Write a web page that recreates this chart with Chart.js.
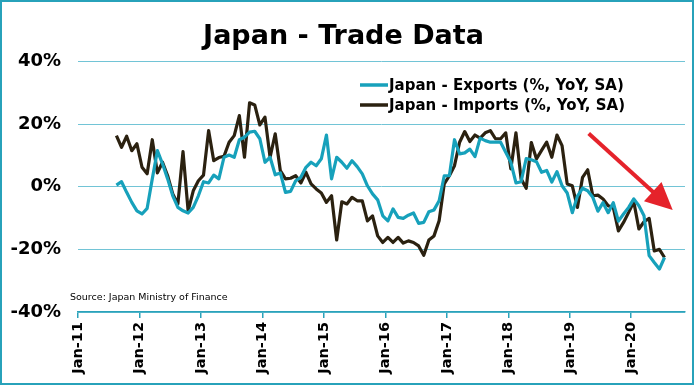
<!DOCTYPE html>
<html lang="en">
<head>
<meta charset="UTF-8" />
<title>Japan - Trade Data</title>
<script src="https://cdn.jsdelivr.net/npm/chart.js"></script>
<style>
  body { margin: 0; background: #fff; }
  .frame { width: 694px; height: 385px; box-sizing: border-box; border: 2px solid #27a2ba; background: #fff; }
  canvas { display: block; }
</style>
</head>
<body>
<div class="frame"><canvas id="tradeChart" width="690" height="381"></canvas></div>
<script>
// months counted from Jan-11 (= 0); first observation is Aug-11
const startMonth = 7;
const yearLabels = ['Jan-11', 'Jan-12', 'Jan-13', 'Jan-14', 'Jan-15', 'Jan-16', 'Jan-17', 'Jan-18', 'Jan-19', 'Jan-20'];

const exportsYoY = [
  0.5, 1.6, -1.8, -5, -7.7,
  -8.7, -6.9, 2.5, 11.5, 7.3, 2.5, -2.9, -6.6, -7.7, -8.4, -6.6, -2.9,
  1.6, 1.2, 3.7, 2.5, 9.4, 10.1, 9.4, 15, 15.8, 17.4, 17.7, 15.3,
  7.8, 9.4, 3.8, 4.4, -1.8, -1.5, 1.9, 3, 6.2, 7.8, 6.7, 8.9,
  16.5, 2.5, 9.4, 7.8, 5.9, 8.3, 6.4, 4.1, 0.3, -2.3, -4.2, -9.3,
  -10.9, -7.1, -9.8, -10.1, -9.1, -8.4, -11.7, -11.4, -8, -7.4, -4.5, 3.5,
  3.5, 15, 10.5, 10.8, 12, 9.6, 15.5, 14.7, 14.2, 14.2, 14.2, 11,
  7.8, 1.2, 1.6, 9, 8.6, 8, 4.6, 5.2, 1.5, 4.8, 0.3, -2,
  -8.3, -3, -0.5, -1.3, -3.4, -7.8, -5.1, -8.3, -5.1, -11, -8.7, -6.6,
  -3.9, -6.1, -9.3, -22, -24.2, -26.3, -22.6
];

const importsYoY = [
  16.3, 12.6, 16.1, 11.5, 13.7,
  6.2, 4.1, 15, 4.4, 7.8, 3.5, -2.3, -5.5, 11.2, -7.7, -1.3, 1.9,
  3.7, 17.9, 8.3, 9.3, 9.7, 14.2, 16.3, 22.7, 9.4, 26.8, 26.1, 19.7,
  22.2, 9.4, 16.9, 5.1, 2.5, 2.7, 3.5, 1.2, 4.6, 0.9, -0.7, -2,
  -5, -2.9, -17, -4.8, -5.5, -3.4, -4.5, -4.5, -10.9, -9.3, -15.7, -17.8,
  -16.2, -17.8, -16.2, -18, -17.3, -17.8, -18.9, -21.9, -17, -15.7, -10.9, 0.9,
  3.5, 6.7, 14.2, 17.6, 14.4, 16.5, 15.5, 17.2, 17.9, 15.3, 15.3, 17.2,
  5.7, 17.2, 2.5, -0.5, 14.1, 8.9, 11.6, 14.2, 9.4, 16.5, 13.1, 0.9,
  0.3, -6.6, 3, 5.4, -2.9, -2.7, -3.9, -6.1, -6.6, -14.1, -11.4, -8.2,
  -4.8, -13.5, -11.2, -10.1, -20.5, -20, -22.6
];

// plot each month at mid-month
const toPoints = arr => arr.map((v, i) => ({ x: startMonth + i + 0.5, y: v }));

const teal = '#17a1bb';
const dark = '#2b2110';
const axisTeal = '#2aa2ba';
const gridTeal = '#72c4d6';

// red "trend" arrow, given in data units (month index, %)
const arrowFrom = { x: 99.7, y: 17 };
const arrowTo = { x: 116.1, y: -7.4 };

const extras = {
  id: 'extras',
  afterDatasetsDraw(chart) {
    const { ctx, chartArea, scales } = chart;
    ctx.save();

    // legend
    const lx = 358, ly = [83, 103];
    chart.data.datasets.forEach((ds, i) => {
      ctx.strokeStyle = ds.borderColor;
      ctx.lineWidth = 3.5;
      ctx.beginPath();
      ctx.moveTo(lx, ly[i]);
      ctx.lineTo(lx + 28, ly[i]);
      ctx.stroke();
      ctx.fillStyle = '#000';
      ctx.font = 'bold 15px "DejaVu Sans"';
      ctx.textBaseline = 'middle';
      ctx.textAlign = 'left';
      ctx.fillText(ds.label, lx + 29, ly[i] + 1);
    });

    // source note
    ctx.font = '9.5px "DejaVu Sans"';
    ctx.fillStyle = '#000';
    ctx.fillText('Source: Japan Ministry of Finance', chartArea.left - 8, chartArea.bottom - 14);

    // arrow
    const x1 = scales.x.getPixelForValue(arrowFrom.x), y1 = scales.y.getPixelForValue(arrowFrom.y);
    const x2 = scales.x.getPixelForValue(arrowTo.x), y2 = scales.y.getPixelForValue(arrowTo.y);
    const ang = Math.atan2(y2 - y1, x2 - x1);
    const headLen = 27, headHalf = 13;
    const bx = x2 - headLen * Math.cos(ang), by = y2 - headLen * Math.sin(ang);
    ctx.strokeStyle = '#e5232b';
    ctx.fillStyle = '#e5232b';
    ctx.lineWidth = 4;
    ctx.beginPath();
    ctx.moveTo(x1, y1);
    ctx.lineTo(bx + 2 * Math.cos(ang), by + 2 * Math.sin(ang));
    ctx.stroke();
    ctx.beginPath();
    ctx.moveTo(x2, y2);
    ctx.lineTo(bx - headHalf * Math.sin(ang), by + headHalf * Math.cos(ang));
    ctx.lineTo(bx + headHalf * Math.sin(ang), by - headHalf * Math.cos(ang));
    ctx.closePath();
    ctx.fill();

    ctx.restore();
  }
};

new Chart(document.getElementById('tradeChart'), {
  type: 'line',
  data: {
    datasets: [
      {
        label: 'Japan - Exports (%, YoY, SA)',
        data: toPoints(exportsYoY),
        borderColor: teal,
        borderWidth: 3.2,
        borderJoinStyle: 'round',
        pointRadius: 0,
        tension: 0,
        fill: false
      },
      {
        label: 'Japan - Imports (%, YoY, SA)',
        data: toPoints(importsYoY),
        borderColor: dark,
        borderWidth: 3.2,
        borderJoinStyle: 'round',
        pointRadius: 0,
        tension: 0,
        fill: false
      }
    ]
  },
  options: {
    responsive: false,
    animation: false,
    layout: { padding: { left: 0, right: 7, top: 0, bottom: 0 } },
    plugins: {
      legend: { display: false },
      tooltip: { enabled: false },
      title: {
        display: true,
        text: 'Japan - Trade Data',
        color: '#000',
        font: { family: 'DejaVu Sans', size: 27, weight: 'bold' },
        padding: { top: 19, bottom: 8 }
      }
    },
    scales: {
      x: {
        type: 'linear',
        min: 0,
        max: 118.5,
        afterBuildTicks: s => { s.ticks = yearLabels.map((_, i) => ({ value: i * 12 })); },
        afterFit: s => { s.height = 71; },
        grid: { drawOnChartArea: false, drawTicks: true, tickLength: 6, color: axisTeal, lineWidth: 1.5 },
        border: { display: true, color: axisTeal, width: 1.5 },
        ticks: {
          autoSkip: false,
          minRotation: 90,
          maxRotation: 90,
          padding: 4,
          color: '#000',
          font: { family: 'DejaVu Sans', size: 14.5, weight: 'bold' },
          callback: v => yearLabels[Math.round(v / 12)]
        }
      },
      y: {
        min: -40,
        max: 40,
        afterFit: s => { s.width = 76; },
        grid: { color: gridTeal, lineWidth: 1, drawTicks: false },
        border: { display: false },
        ticks: {
          stepSize: 20,
          padding: 17,
          color: '#000',
          font: { family: 'DejaVu Sans', size: 18, weight: 'bold' },
          callback: v => v + '%'
        }
      }
    }
  },
  plugins: [extras]
});
</script>
</body>
</html>
